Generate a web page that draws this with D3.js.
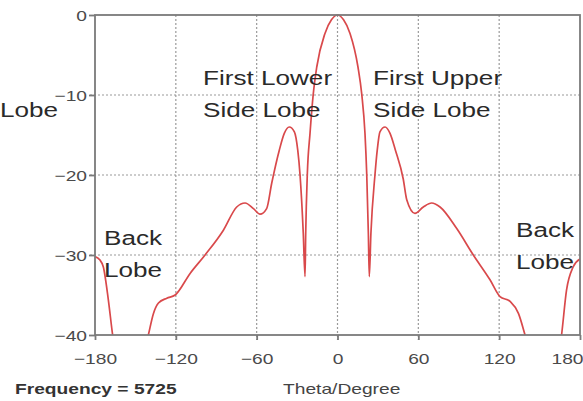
<!DOCTYPE html>
<html>
<head>
<meta charset="utf-8">
<script src="https://cdn.jsdelivr.net/npm/d3@7"></script>
<style>
  html, body { margin: 0; padding: 0; background: #fff; }
  svg { display: block; font-family: "Liberation Sans", Arial, Helvetica, sans-serif; }
</style>
</head>
<body>
<svg id="chart" width="583" height="401"></svg>
<script>
// ---- data ----
const theta = [-180, -176.5, -173.8, -170.1, -166.9, -160, -150, -140.4, -136.6, -132.9, -126.7, -120.5,
  -109.4, -98.3, -84.7, -74.8, -68.6, -62.4, -57.5, -52.6, -48.8, -43.2, -39.5, -35.8, -32, -29.5, -27.8,
  -25.4, -24.1, -23.6, -22.4, -20.4, -18.0, -15.4, -9.3, -4.5, 0, 4.5, 9.3, 15.2, 18.0, 20.4, 21.7, 22.9,
  23.6, 24.8, 27.8, 29.5, 31.5, 35.3, 39, 43, 48.8, 51.4, 57.5, 63.7, 69.9, 76.1, 88.5, 100.8, 113.2,
  120.6, 128.1, 134.3, 139.2, 150, 160, 166.3, 170, 174.9, 180];
const gainDb = [-30.2, -30.6, -31.5, -35.6, -40, -46, -47, -40, -37.3, -36.0, -35.4, -35.0,
  -32.3, -30.0, -26.9, -24.0, -23.5, -24.2, -24.9, -24.2, -21.0, -16.9, -14.8, -14.0, -14.6, -16.9, -20.0,
  -27.3, -32.7, -27.3, -19.9, -14.8, -9.9, -6.5, -2.3, -0.6, 0, -0.6, -2.3, -6.5, -9.9, -14.8, -19.9, -27.3,
  -32.7, -27.3, -20.0, -16.9, -14.6, -14.0, -14.8, -16.9, -20.5, -23.1, -24.8, -24.0, -23.5, -24.0, -26.7, -30.0, -33.1,
  -35.2, -35.8, -37.3, -40, -47, -46, -40, -34.4, -31.5, -30.5];
const xTicks = [-180, -120, -60, 0, 60, 120, 180];
const yTicks = [0, -10, -20, -30, -40];
const xGrid = [-120, -60, 0, 60, 120];
const yGrid = [-10, -20, -30];
const annotations = [
  {lines: ["First Lower", "Side Lobe"], x: 203, y: 85},
  {lines: ["First Upper", "Side Lobe"], x: 373, y: 85},
  {lines: ["Back", "Lobe"], x: 104, y: 245},
  {lines: ["Back", "Lobe"], x: 516, y: 237}
];

// ---- layout ----
const L = 95, R = 580, T = 15, B = 335;
const SX = 1.28; // horizontal text stretch seen in the reference
const svg = d3.select("#chart");
const x = d3.scaleLinear().domain([-180, 180]).range([L, R]);
const y = d3.scaleLinear().domain([-40, 0]).range([B, T]);

// grid
svg.append("g").selectAll("line").data(xGrid).join("line")
  .attr("x1", d => x(d)).attr("x2", d => x(d)).attr("y1", T).attr("y2", B + 5)
  .attr("stroke", "#9a9a9a").attr("stroke-width", 1.2).attr("stroke-dasharray", "2,2");
svg.append("g").selectAll("line").data(yGrid).join("line")
  .attr("x1", L - 5).attr("x2", R).attr("y1", d => y(d)).attr("y2", d => y(d))
  .attr("stroke", "#9a9a9a").attr("stroke-width", 1.2).attr("stroke-dasharray", "2,2");

// curve
svg.append("clipPath").attr("id", "clip").append("rect")
  .attr("x", L).attr("y", T - 2).attr("width", R - L).attr("height", B - T + 2);
const pts = theta.map((t, i) => [t, gainDb[i]]);
svg.append("path").datum(pts)
  .attr("clip-path", "url(#clip)")
  .attr("d", d3.line().x(d => x(d[0])).y(d => y(d[1])).curve(d3.curveMonotoneX))
  .attr("fill", "none").attr("stroke", "#d9494b").attr("stroke-width", 1.7);

// frame
svg.append("rect").attr("x", L).attr("y", T).attr("width", R - L).attr("height", B - T)
  .attr("fill", "none").attr("stroke", "#7a7a7a").attr("stroke-width", 1.8);

// axes
const xAxis = svg.append("g").attr("transform", `translate(0,${B})`)
  .call(d3.axisBottom(x).tickValues(xTicks).tickSize(5).tickSizeOuter(0).tickFormat(d3.format("d")));
const yAxis = svg.append("g").attr("transform", `translate(${L},0)`)
  .call(d3.axisLeft(y).tickValues(yTicks).tickSize(6).tickSizeOuter(0).tickFormat(d3.format("d")));
[xAxis, yAxis].forEach(a => {
  a.select(".domain").remove();
  a.selectAll(".tick line").attr("stroke", "#7a7a7a").attr("stroke-width", 1.8);
  a.selectAll(".tick text").attr("fill", "#4a4a4a").attr("font-size", 15)
    .attr("font-family", "'Liberation Sans', Arial, sans-serif");
});
xAxis.selectAll(".tick text").attr("y", 18).attr("dy", "0.71em")
  .attr("transform", `scale(${SX},1)`);
// keep the last label inside the window
xAxis.selectAll(".tick text").filter(d => d === 180).attr("text-anchor", "end").attr("x", 3 / SX);
yAxis.selectAll(".tick text").attr("x", -8 / SX).attr("dy", "0.36em")
  .attr("transform", `scale(${SX},1)`);

// text helper
function stretchText(str, tx, ty, opts = {}) {
  return svg.append("text")
    .attr("transform", `translate(${tx},${ty}) scale(${SX},1)`)
    .attr("text-anchor", opts.anchor || "start")
    .attr("font-size", opts.size || 20.4)
    .attr("font-weight", opts.weight || "normal")
    .attr("fill", opts.fill || "#2a2a2a")
    .text(str);
}

annotations.forEach(a => {
  a.lines.forEach((ln, i) => stretchText(ln, a.x, a.y + i * 32.3));
});
stretchText("Lobe", 0, 117);
stretchText("Frequency = 5725", 15, 394, {size: 15, weight: "bold", fill: "#333"});
stretchText("Theta/Degree", 283, 394, {size: 15, fill: "#444"});
</script>
</body>
</html>
